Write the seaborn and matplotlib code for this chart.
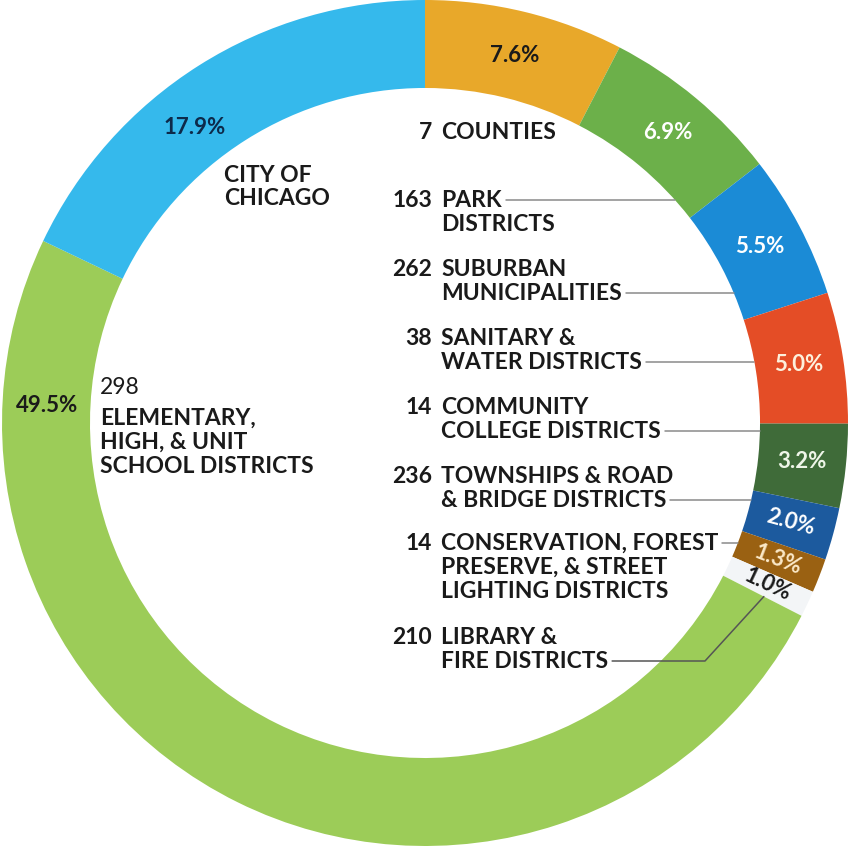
import numpy as np
import matplotlib.pyplot as plt
import seaborn as sns

# shares of the levy, clockwise from 12 o'clock
categories = ["COUNTIES", "PARK\nDISTRICTS", "SUBURBAN\nMUNICIPALITIES",
              "SANITARY &\nWATER DISTRICTS", "COMMUNITY\nCOLLEGE DISTRICTS",
              "TOWNSHIPS & ROAD\n& BRIDGE DISTRICTS",
              "CONSERVATION, FOREST\nPRESERVE, & STREET\nLIGHTING DISTRICTS",
              "LIBRARY &\nFIRE DISTRICTS",
              "ELEMENTARY,\nHIGH, & UNIT\nSCHOOL DISTRICTS", "CITY OF\nCHICAGO"]
shares = [7.6, 6.9, 5.5, 5.0, 3.2, 2.0, 1.3, 1.0, 49.5, 17.9]
counts = ["7", "163", "262", "38", "14", "236", "14", "210", "298", ""]

colors = ["#e8a82a", "#6cb04a", "#1b8bd6", "#e44d26", "#3f6b39",
          "#1c5a9e", "#9a6112", "#f3f5f7", "#9ccc58", "#35b9ec"]
pct_colors = ["#1a1a1a", "white", "white", "#fdf0dc", "#eef5e8",
              "white", "#fbe9c8", "#1a1a1a", "#1a1a1a", "#0d2a4a"]

sns.set_theme(style="white")
plt.rcParams['font.family'] = ['Lato', 'DejaVu Sans']

W, H = 850, 846
CX, CY, R = 425, 423, 423
fig = plt.figure(figsize=(W / 100, H / 100), dpi=100)
ax = fig.add_axes([0, 0, 1, 1])

ring = 0.208
r_in = 1 - ring
wedges, _ = ax.pie(shares, colors=colors, startangle=90, counterclock=False,
                   radius=1, wedgeprops=dict(width=ring, linewidth=0))

# pie() resets the limits, so set them afterwards
ax.set_xlim(-CX / R, (W - CX) / R)
ax.set_ylim(-(H - CY) / R, CY / R)
ax.set_aspect('equal')
ax.axis('off')


def px(x, y):
    return (x - CX) / R, (CY - y) / R


FS = 16.5

# percent labels on the ring
special = {8: (177.4, 0.894), 9: (127.9, 0.885)}
for i, (w, v) in enumerate(zip(wedges, shares)):
    ang = (w.theta1 + w.theta2) / 2
    r = 0.895
    if i in special:
        ang, r = special[i]
    rot = ang if v <= 2.0 else 0
    ax.text(r * np.cos(np.radians(ang)), r * np.sin(np.radians(ang)), f"{v:.1f}%",
            ha='center', va='center', fontsize=16, fontweight='bold',
            color=pct_colors[i], rotation=rot, rotation_mode='anchor')

# right-hand label column
top_y = [132, 200, 269, 338, 407, 476, 543, 637]
lead_line = [None, 0, 1, 1, 1, 1, 0, 1]
line_h = 24
fig.canvas.draw()
renderer = fig.canvas.get_renderer()
inv = ax.transData.inverted()
for i in range(8):
    nx, ny = px(432, top_y[i])
    ax.text(nx, ny, counts[i], ha='right', va='center', fontsize=FS,
            fontweight='bold', color='#1a1a1a')
    for j, line in enumerate(categories[i].split("\n")):
        tx, ty = px(441, top_y[i] + j * line_h)
        t = ax.text(tx, ty, line, ha='left', va='center', fontsize=FS,
                    fontweight='bold', color='#1a1a1a')
        if lead_line[i] == j:
            bb = t.get_window_extent(renderer)
            x0 = inv.transform((bb.x1 + 4, 0))[0]
            if i == 7:
                w = wedges[7]
                a = np.radians(min(w.theta1, w.theta2))
                ex, ey = 0.9 * np.cos(a), 0.9 * np.sin(a)
                kx = px(705, 0)[0]
                ax.plot([x0, kx, ex], [ty, ty, ey], color='#555555', lw=1.1)
            else:
                ex = np.sqrt(r_in ** 2 - ty ** 2)
                ax.plot([x0, ex], [ty, ty], color='#8a8a8a', lw=1.1)

# left-hand labels
ax.text(*px(224, 175), "CITY OF", ha='left', va='center', fontsize=FS,
        fontweight='bold', color='#1a1a1a')
ax.text(*px(224, 198), "CHICAGO", ha='left', va='center', fontsize=FS,
        fontweight='bold', color='#1a1a1a')
ax.text(*px(100, 387), counts[8], ha='left', va='center', fontsize=FS,
        color='#1a1a1a')
for j, line in enumerate(categories[8].split("\n")):
    ax.text(*px(100, 418 + j * line_h), line, ha='left', va='center', fontsize=FS,
            fontweight='bold', color='#1a1a1a')

fig.savefig("out.png", dpi=100, facecolor='white')
